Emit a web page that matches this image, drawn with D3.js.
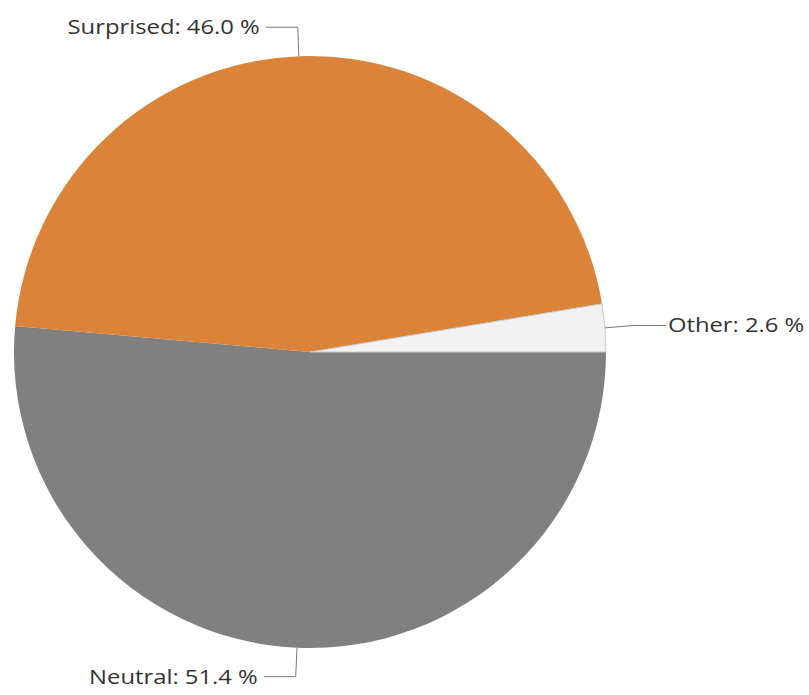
<!DOCTYPE html>
<html><head><meta charset="utf-8">
<script src="https://cdn.jsdelivr.net/npm/d3@7"></script>
<style>body{margin:0;background:#fff}svg{display:block}text{font-family:"Open Sans","Noto Sans",sans-serif}</style>
</head><body>
<svg id="c" width="809" height="695"></svg>
<script>
const categories = ["Neutral", "Surprised", "Other"];
const values = [51.4, 46.0, 2.6];
const colors = ["#808080", "#DB8338", "#F2F2F2"];

const W = 809, H = 695, cx = 310, cy = 352, R = 296;
const svg = d3.select("#c");
const g = svg.append("g").attr("transform", `translate(${cx},${cy})`);
const data = categories.map((c, i) => ({name: c, value: values[i], color: colors[i]}));
const pie = d3.pie().value(d => d.value).sort(null).startAngle(Math.PI / 2).endAngle(Math.PI / 2 + 2 * Math.PI);
const arcs = pie(data);
const arc = d3.arc().innerRadius(0).outerRadius(R);
g.selectAll("path.s").data(arcs).join("path").attr("class", "s")
  .attr("d", arc).attr("fill", d => d.data.color)
  .attr("stroke", d => d.data.name === "Other" ? "#c8c8c8" : "none").attr("stroke-width", 1);

const pt = (a, r) => [r * Math.sin(a), -r * Math.cos(a)];
arcs.forEach(d => {
  const a = (d.startAngle + d.endAngle) / 2;
  const p0 = pt(a, R), p1 = pt(a, R + 29);
  const dir = p0[0] < 0 ? -1 : 1;
  const p2 = [p1[0] + dir * 32, p1[1]];
  g.append("polyline").attr("points", [p0, p1, p2].map(p => p.join(",")).join(" "))
    .attr("fill", "none").attr("stroke", "#777").attr("stroke-width", 1);
  const tx = p2[0] + dir * (dir < 0 ? 6 : 2);
  g.append("text").attr("x", tx).attr("y", p2[1]).attr("dy", "0.35em")
    .attr("text-anchor", dir < 0 ? "end" : "start").attr("font-size", 20).attr("fill", "#333")
    .attr("transform", `translate(${tx},0) scale(1.19,1) translate(${-tx},0)`)
    .text(`${d.data.name}: ${d.data.value.toFixed(1)} %`);
});
</script>
</body></html>
